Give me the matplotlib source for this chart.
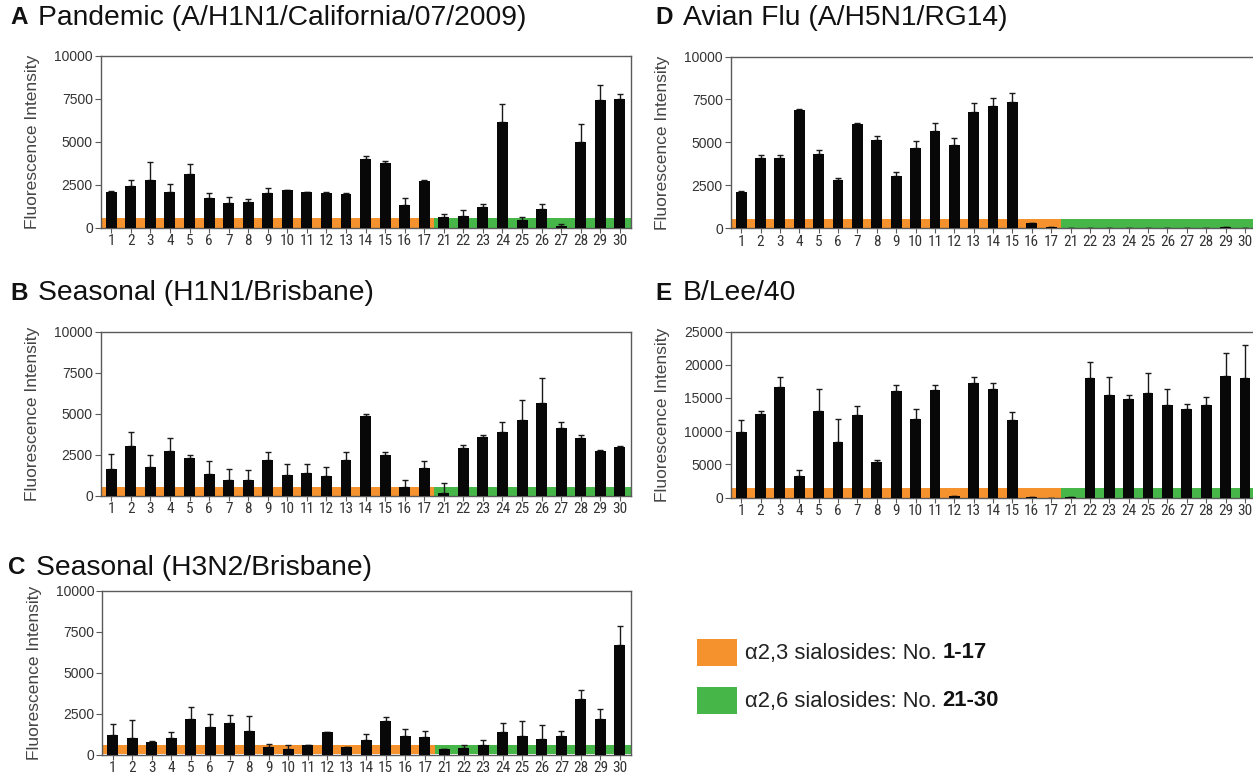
import matplotlib
matplotlib.use("Agg")
import matplotlib.pyplot as plt
from matplotlib.patches import Rectangle
from matplotlib import font_manager as fm
import numpy as np

# ---------------- data ----------------
glycans = ["1", "2", "3", "4", "5", "6", "7", "8", "9", "10", "11", "12", "13", "14",
           "15", "16", "17", "21", "22", "23", "24", "25", "26", "27", "28", "29", "30"]

a_vals = [2100, 2400, 2800, 2100, 3100, 1700, 1450, 1500, 2000, 2200, 2050, 2000, 1950, 4000,
          3750, 1300, 2700, 600, 700, 1200, 6150, 450, 1100, 80, 5000, 7400, 7500]
a_top = [2150, 2800, 3800, 2550, 3700, 2000, 1800, 1650, 2300, 2200, 2050, 2050, 2000, 4150,
         3850, 1750, 2750, 800, 1050, 1350, 7200, 650, 1350, 200, 6000, 8300, 7800]

b_vals = [1650, 3000, 1750, 2700, 2300, 1300, 950, 950, 2150, 1250, 1400, 1200, 2200, 4850,
          2500, 500, 1700, 150, 2900, 3550, 3900, 4600, 5650, 4100, 3500, 2700, 2950]
b_top = [2550, 3850, 2500, 3500, 2450, 2100, 1650, 1550, 2650, 1950, 1950, 1750, 2650, 5000,
         2650, 950, 2100, 750, 3100, 3700, 4500, 5800, 7150, 4500, 3700, 2800, 3000]

c_vals = [1200, 1000, 750, 1000, 2150, 1650, 1900, 1450, 450, 350, 550, 1350, 450, 900,
          2050, 1100, 1050, 350, 400, 600, 1350, 1100, 950, 1150, 3400, 2150, 6650]
c_top = [1850, 2100, 800, 1350, 2900, 2450, 2400, 2350, 650, 550, 600, 1350, 450, 1250,
         2300, 1550, 1450, 350, 600, 900, 1950, 2050, 1800, 1450, 3950, 2800, 7850]

d_vals = [2100, 4100, 4100, 6900, 4300, 2800, 6050, 5150, 3050, 4700, 5650, 4850, 6750, 7100,
          7350, 300, 80, 20, 20, 20, 20, 20, 20, 20, 20, 100, 20]
d_top = [2200, 4250, 4250, 6950, 4550, 2900, 6150, 5350, 3250, 5100, 6150, 5250, 7300, 7600,
         7850, 300, 80, 20, 20, 20, 20, 20, 20, 20, 20, 100, 20]

e_vals = [9800, 12600, 16600, 3300, 13100, 8300, 12500, 5300, 16100, 11800, 16200, 200, 17300, 16400,
          11700, 50, 0, 100, 18000, 15500, 14800, 15800, 14000, 13300, 13900, 18300, 18000]
e_top = [11700, 13100, 18200, 4100, 16400, 11800, 13800, 5700, 16900, 13300, 17000, 200, 18200, 17200,
         12900, 50, 0, 100, 20400, 18100, 15500, 18700, 16400, 14100, 15100, 21800, 22900]

a_ticks = [0, 2500, 5000, 7500, 10000]
e_ticks = [0, 5000, 10000, 15000, 20000, 25000]

panel_letters = ["A", "B", "C", "D", "E"]
panel_titles = ["Pandemic (A/H1N1/California/07/2009)", "Seasonal (H1N1/Brisbane)",
                "Seasonal (H3N2/Brisbane)", "Avian Flu (A/H5N1/RG14)", "B/Lee/40"]
legend_labels = ["\u03b12,3 sialosides: No. ", "\u03b12,6 sialosides: No. "]
legend_bold = ["1-17", "21-30"]

# ---------------- style ----------------
W, H = 1253, 775
ORANGE = "#F5922E"
GREEN = "#46B649"
SPINE = "#5a5a5a"
TXT = "#333333"

flist = fm.fontManager.ttflist
avail = {f.name for f in flist}
SANS = "Liberation Sans" if "Liberation Sans" in avail else "DejaVu Sans"
plt.rcParams["font.family"] = [SANS, "DejaVu Sans"]


def find_narrow():
    prefs = ["Liberation Sans Narrow", "Roboto Condensed", "Open Sans Condensed",
             "DejaVu Sans Condensed", "Noto Sans Condensed"]
    for p in prefs:
        for f in flist:
            if f.name == p and f.weight in (400, "normal", "regular") and f.style == "normal":
                return f.fname
    for f in flist:
        fn = f.fname.lower()
        if ("narrow" in fn or "condensed" in fn) and "bold" not in fn and "oblique" not in fn \
                and "italic" not in fn and "semicondensed" not in fn and "extra" not in fn:
            return f.fname
    return None


narrow_path = find_narrow()
if narrow_path:
    XFONT = fm.FontProperties(fname=narrow_path, size=11)
else:
    XFONT = fm.FontProperties(family=SANS, size=10)

fig = plt.figure(figsize=(W / 100, H / 100), dpi=100)


def px_axes(l, r, t, b):
    return [l / W, 1 - b / H, (r - l) / W, (b - t) / H]


panels = [
    (a_vals, a_top, a_ticks, px_axes(100.5, 631, 55.7, 227.7), 550),
    (b_vals, b_top, a_ticks, px_axes(100.5, 631, 331.5, 495.7), 550),
    (c_vals, c_top, a_ticks, px_axes(102, 631, 590.5, 754.5), 550),
    (d_vals, d_top, a_ticks, px_axes(730.5, 1256, 56.5, 228.3), 550),
    (e_vals, e_top, e_ticks, px_axes(730.5, 1256, 331.5, 497.5), 1450),
]

x = np.arange(len(glycans))
xlo, xhi = -0.55, len(glycans) - 1 + 0.57
split = 16.5

for vals, tops, ticks, rect, band in panels:
    ax = fig.add_axes(rect)
    ax.set_xlim(xlo, xhi)
    ax.set_ylim(0, ticks[-1])
    ax.fill_between([xlo, split], 0, band, color=ORANGE, lw=0, zorder=1)
    ax.fill_between([split, xhi], 0, band, color=GREEN, lw=0, zorder=1)
    v = np.array(vals, dtype=float)
    up = np.array(tops, dtype=float) - v
    ax.bar(x, v, width=0.56, color="#080808", zorder=3)
    ax.errorbar(x, v, yerr=[np.zeros_like(up), up], fmt="none", ecolor="#1a1a1a",
                elinewidth=1.0, capsize=2.5, capthick=1.0, zorder=2)
    ax.set_xticks(x)
    ax.set_xticklabels(glycans, fontproperties=XFONT, color=TXT)
    ax.set_yticks(ticks)
    ax.set_yticklabels([str(t) for t in ticks], fontsize=10, color=TXT)
    ax.tick_params(axis="x", length=3.5, width=0.8, color=SPINE, pad=1.0)
    ax.tick_params(axis="y", length=4, width=0.8, color=SPINE, pad=1.5)
    for s in ax.spines.values():
        s.set_color(SPINE)
        s.set_linewidth(1.0)
    ax.set_ylabel("Fluorescence Intensity", fontsize=12.5, color="#444444", labelpad=10)

# titles
title_pos = [(10, 18), (10, 293), (8, 568), (655, 18), (655, 293)]
for (tx, ty), letter, title in zip(title_pos, panel_letters, panel_titles):
    fig.text(tx / W, 1 - ty / H, letter, fontsize=17.5, fontweight="bold", color="#111111",
             va="center", ha="left")
    fig.text((tx + 28) / W, 1 - ty / H, title, fontsize=20.3, color="#111111",
             va="center", ha="left")

# legend
fig.canvas.draw()
renderer = fig.canvas.get_renderer()
for i, (lab, bold, col) in enumerate(zip(legend_labels, legend_bold, [ORANGE, GREEN])):
    y0 = 639 + i * 48
    fig.patches.append(Rectangle((697 / W, 1 - (y0 + 27) / H), 40 / W, 27 / H,
                                 transform=fig.transFigure, color=col, lw=0))
    t = fig.text(745 / W, 1 - (y0 + 14) / H, lab, fontsize=15.8, color="#222222",
                 va="center", ha="left")
    bb = t.get_window_extent(renderer)
    fig.text(bb.x1 / W, 1 - (y0 + 14) / H, bold, fontsize=15.8, fontweight="bold",
             color="#111111", va="center", ha="left")

fig.savefig("out.png", dpi=100)
